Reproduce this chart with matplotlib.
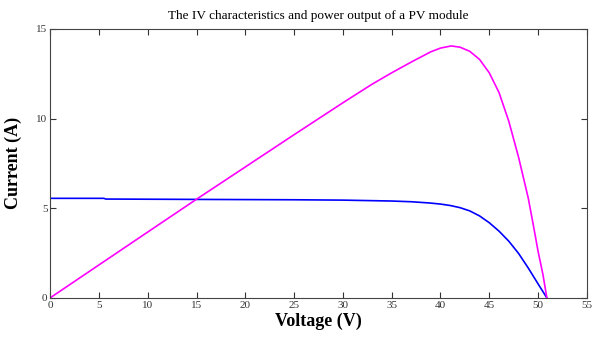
import matplotlib
matplotlib.use("Agg")
import matplotlib.pyplot as plt

plt.rcParams["font.family"] = ["Liberation Serif", "DejaVu Serif"]

# IV curve (current, A)
v_iv = [0, 5.5, 5.7, 15, 25, 30, 35, 37, 38.9, 40, 41, 42, 43, 44,
        45, 46, 47, 48, 49, 50, 50.9]
i_iv = [5.55, 5.55, 5.51, 5.49, 5.47, 5.45, 5.40, 5.36, 5.29, 5.23, 5.15, 5.03, 4.85, 4.57,
        4.19, 3.72, 3.16, 2.48, 1.66, 0.78, 0.0]

# power output curve (scaled)
v_pw = [0, 10, 15, 20, 25, 30, 33, 35, 37, 39, 40, 41.1, 42, 43, 44,
        45, 46, 47, 48, 49, 49.5, 50, 50.5, 50.9]
p_pw = [0, 3.67, 5.50, 7.30, 9.10, 10.88, 11.92, 12.55, 13.15, 13.72, 13.93, 14.05,
        13.98, 13.75, 13.30, 12.55, 11.45, 9.85, 7.85, 5.55, 4.10, 2.60, 1.30, 0.0]

fig = plt.figure(figsize=(5.97, 3.40), dpi=100)
ax = fig.add_axes([0.084, 0.124, 0.899, 0.791])

ax.plot(v_iv, i_iv, color="#0000ff", lw=1.2)
ax.plot(v_pw, p_pw, color="#ff00ff", lw=1.2)

ax.set_xlim(0, 55)
ax.set_ylim(0, 15)
ax.set_xticks(range(0, 56, 5))
ax.set_yticks([0, 5, 10, 15])
ax.tick_params(direction="in", length=4, width=0.8, top=True, right=True,
               labelsize=8, colors="#333333", pad=2)
for s in ax.spines.values():
    s.set_color("#444444")
    s.set_linewidth(0.8)

ax.set_title("The IV characteristics and power output of a PV module",
             fontsize=9.5, pad=7)
ax.set_xlabel("Voltage (V)", fontsize=13, fontweight="bold", labelpad=2)
ax.set_ylabel("Current (A)", fontsize=13, fontweight="bold", labelpad=10)

fig.savefig("out.png", dpi=100)
